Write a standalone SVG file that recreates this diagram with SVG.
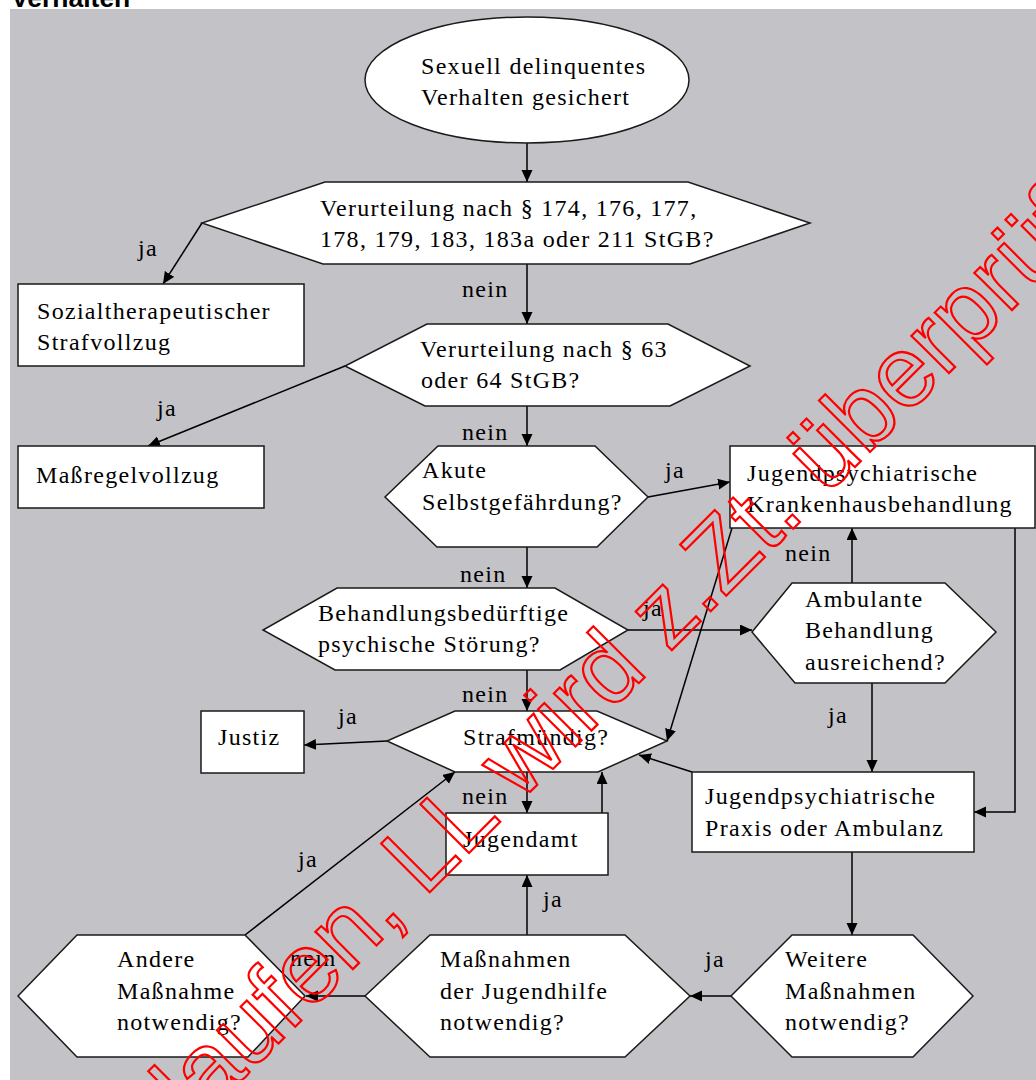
<svg xmlns="http://www.w3.org/2000/svg" width="1036" height="1080" viewBox="0 0 1036 1080">
<defs>
<marker id="ah" markerUnits="userSpaceOnUse" markerWidth="13" markerHeight="12" refX="12" refY="5.5" orient="auto">
<path d="M0,0 L12,5.5 L0,11 z" fill="#000"/>
</marker>
<style>
.n{fill:#fff;stroke:#1a1a1a;stroke-width:1.5}
.t{font-family:"Liberation Serif","Times New Roman",serif;font-size:24px;letter-spacing:1.3px;fill:#000}
.c{fill:none;stroke:#000;stroke-width:1.5;marker-end:url(#ah)}
.wm{font-family:"Liberation Sans",Arial,sans-serif;font-size:100px;fill:none;stroke:#ff0000;stroke-width:2.2}
</style>
</defs>
<rect x="0" y="0" width="1036" height="1080" fill="#fff"/>
<rect x="10" y="9" width="1026" height="1071" fill="#c3c2c6"/>
<text x="11" y="7" style="font-family:'Liberation Sans',Arial,sans-serif;font-size:26.5px;font-weight:bold">Verhalten</text>

<g id="connectors">
<line class="c" x1="527" y1="143" x2="527" y2="182"/>
<line class="c" x1="527" y1="264" x2="527" y2="324"/>
<line class="c" x1="527" y1="406" x2="527" y2="446"/>
<line class="c" x1="527" y1="547" x2="527" y2="588"/>
<line class="c" x1="527" y1="670" x2="527" y2="711"/>
<line class="c" x1="527" y1="772" x2="527" y2="813"/>
<line class="c" x1="202" y1="223" x2="163" y2="284"/>
<line class="c" x1="345" y1="366" x2="148" y2="446"/>
<line class="c" x1="648" y1="497" x2="730" y2="482"/>
<line class="c" x1="628" y1="630" x2="752" y2="630"/>
<line class="c" x1="852" y1="583" x2="852" y2="528"/>
<line class="c" x1="872" y1="683" x2="872" y2="772"/>
<polyline class="c" points="1015,528 1015,812 974,812"/>
<line class="c" x1="732" y1="528" x2="667" y2="741"/>
<line class="c" x1="692" y1="772" x2="639" y2="755"/>
<line class="c" x1="387" y1="741" x2="304" y2="745"/>
<line class="c" x1="602" y1="813" x2="602" y2="772"/>
<line class="c" x1="852" y1="852" x2="852" y2="935"/>
<line class="c" x1="731" y1="996" x2="690" y2="996"/>
<line class="c" x1="527" y1="935" x2="527" y2="875"/>
<line class="c" x1="365" y1="996" x2="306" y2="996"/>
<line class="c" x1="245" y1="935" x2="455" y2="772"/>
<text class="t" x="138" y="256">ja</text>
<text class="t" x="462" y="297">nein</text>
<text class="t" x="157" y="416">ja</text>
<text class="t" x="462" y="440">nein</text>
<text class="t" x="665" y="478">ja</text>
<text class="t" x="460" y="582">nein</text>
<text class="t" x="643" y="616">ja</text>
<text class="t" x="785" y="561">nein</text>
<text class="t" x="828" y="723">ja</text>
<text class="t" x="462" y="702">nein</text>
<text class="t" x="338" y="724">ja</text>
<text class="t" x="462" y="804">nein</text>
<text class="t" x="543" y="907">ja</text>
<text class="t" x="705" y="967">ja</text>
<text class="t" x="290" y="966">nein</text>
<text class="t" x="298" y="867">ja</text>
</g>

<g id="start">
<ellipse class="n" cx="527" cy="80" rx="162" ry="63"/>
<text class="t" x="421" y="74">Sexuell delinquentes</text>
<text class="t" x="421" y="105">Verhalten gesichert</text>
</g>
<g id="q1">
<polygon class="n" points="325,182 688,182 810,223 690,264 323,264 202,223"/>
<text class="t" x="320" y="216">Verurteilung nach § 174, 176, 177,</text>
<text class="t" x="320" y="247">178, 179, 183, 183a oder 211 StGB?</text>
</g>
<g id="sozial">
<rect class="n" x="18" y="284" width="286" height="82"/>
<text class="t" x="37" y="319">Sozialtherapeutischer</text>
<text class="t" x="37" y="350">Strafvollzug</text>
</g>
<g id="q2">
<polygon class="n" points="427,324 668,324 750,366 670,406 425,406 345,366"/>
<text class="t" x="420" y="357">Verurteilung nach § 63</text>
<text class="t" x="421" y="388">oder 64 StGB?</text>
</g>
<g id="massregel">
<rect class="n" x="18" y="446" width="246" height="62"/>
<text class="t" x="36" y="483">Maßregelvollzug</text>
</g>
<g id="q3">
<polygon class="n" points="438,446 595,446 648,497 597,547 437,547 385,497"/>
<text class="t" x="422" y="478">Akute</text>
<text class="t" x="422" y="510">Selbstgefährdung?</text>
</g>
<g id="krankenhaus">
<rect class="n" x="730" y="446" width="305" height="82"/>
<text class="t" x="747" y="481">Jugendpsychiatrische</text>
<text class="t" x="747" y="512">Krankenhausbehandlung</text>
</g>
<g id="q4">
<polygon class="n" points="337,588 555,588 628,630 560,670 335,670 263,630"/>
<text class="t" x="318" y="621">Behandlungsbedürftige</text>
<text class="t" x="318" y="652">psychische Störung?</text>
</g>
<g id="q5">
<polygon class="n" points="792,583 945,583 996,632 945,683 795,683 752,632"/>
<text class="t" x="805" y="607">Ambulante</text>
<text class="t" x="805" y="638">Behandlung</text>
<text class="t" x="805" y="670">ausreichend?</text>
</g>
<g id="q6">
<polygon class="n" points="455,711 597,711 667,741 598,772 455,772 387,741"/>
<text class="t" x="463" y="745">Strafmündig?</text>
</g>
<g id="justiz">
<rect class="n" x="201" y="711" width="103" height="62"/>
<text class="t" x="218" y="745">Justiz</text>
</g>
<g id="praxis">
<rect class="n" x="692" y="772" width="282" height="80"/>
<text class="t" x="705" y="804">Jugendpsychiatrische</text>
<text class="t" x="705" y="836">Praxis oder Ambulanz</text>
</g>
<g id="jugendamt">
<rect class="n" x="446" y="813" width="162" height="62"/>
<text class="t" x="463" y="847">Jugendamt</text>
</g>
<g id="q7">
<polygon class="n" points="792,935 913,935 973,996 913,1057 792,1057 731,996"/>
<text class="t" x="785" y="967">Weitere</text>
<text class="t" x="785" y="999">Maßnahmen</text>
<text class="t" x="785" y="1030">notwendig?</text>
</g>
<g id="q8">
<polygon class="n" points="430,935 625,935 690,996 625,1057 430,1057 365,996"/>
<text class="t" x="440" y="967">Maßnahmen</text>
<text class="t" x="440" y="999">der Jugendhilfe</text>
<text class="t" x="440" y="1030">notwendig?</text>
</g>
<g id="q9">
<polygon class="n" points="77,935 245,935 305,996 248,1057 77,1057 18,996"/>
<text class="t" x="117" y="967">Andere</text>
<text class="t" x="117" y="999">Maßnahme</text>
<text class="t" x="117" y="1030">notwendig?</text>
</g>

<g id="watermark" transform="translate(424,898) rotate(-45)">
<text class="wm" x="-24" y="0" text-anchor="end">laufen,</text>
<text class="wm" x="0" y="0">LL wird z.Zt. überprüf</text>
</g>
</svg>
